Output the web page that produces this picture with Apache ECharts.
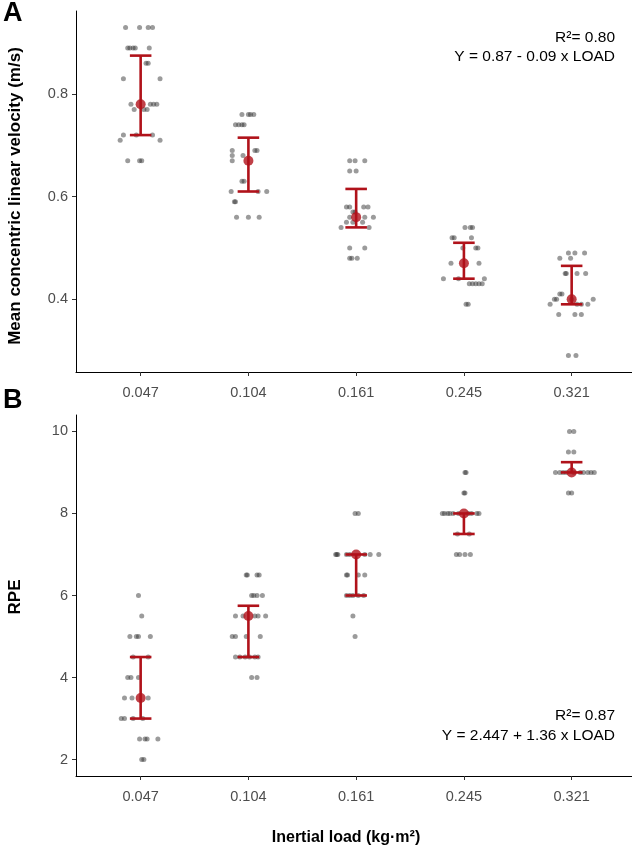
<!DOCTYPE html>
<html>
<head>
<meta charset="utf-8">
<script src="https://cdn.jsdelivr.net/npm/echarts@6/dist/echarts.min.js"></script>
<style>
html,body{margin:0;padding:0;background:#fff;}
#chart{width:632px;height:854px;}
</style>
</head>
<body>
<div id="chart"></div>
<script>
// ---- Data ----
const categories = ['0.047', '0.104', '0.161', '0.245', '0.321'];

// Panel A: individual observations [velocity, horizontal jitter in category widths]
const velPoints = [
  [[0.93,-0.14],[0.93,-0.01],[0.93,0.07],[0.93,0.11],[0.89,-0.12],[0.89,-0.10],[0.89,-0.07],[0.89,-0.05],[0.89,0.08],
   [0.86,0.05],[0.86,0.07],[0.83,-0.16],[0.83,0.18],[0.78,-0.09],[0.78,0.09],[0.78,0.12],[0.78,0.15],
   [0.77,-0.06],[0.77,0.03],[0.77,0.06],[0.72,-0.16],[0.72,-0.04],[0.72,0.11],[0.71,-0.19],[0.71,0.18],
   [0.67,-0.12],[0.67,-0.01],[0.67,0.01]],
  [[0.76,-0.06],[0.76,0.00],[0.76,0.02],[0.76,0.05],[0.74,-0.12],[0.74,-0.09],[0.74,-0.06],[0.74,-0.04],
   [0.69,-0.15],[0.69,0.06],[0.69,0.08],[0.68,-0.15],[0.68,-0.05],[0.67,-0.15],[0.63,-0.06],[0.63,-0.04],
   [0.61,-0.16],[0.61,0.09],[0.61,0.17],[0.59,-0.13],[0.59,-0.12],[0.56,-0.11],[0.56,0.00],[0.56,0.10]],
  [[0.67,-0.06],[0.67,-0.01],[0.67,0.08],[0.65,-0.06],[0.65,0.00],[0.58,-0.09],[0.58,-0.06],[0.58,0.07],[0.58,0.11],
   [0.57,-0.03],[0.57,-0.01],[0.56,-0.06],[0.56,0.08],[0.56,0.16],[0.55,-0.09],[0.55,-0.03],[0.55,0.06],
   [0.54,-0.14],[0.54,0.12],[0.50,-0.06],[0.50,0.08],[0.48,-0.06],[0.48,-0.04],[0.48,0.01]],
  [[0.54,0.01],[0.54,0.06],[0.54,0.08],[0.52,-0.11],[0.52,-0.09],[0.52,0.07],[0.50,-0.01],[0.50,0.11],[0.50,0.13],
   [0.47,-0.12],[0.47,0.14],[0.44,-0.19],[0.44,-0.05],[0.44,0.19],[0.43,0.05],[0.43,0.08],[0.43,0.11],
   [0.43,0.14],[0.43,0.17],[0.39,0.02],[0.39,0.04]],
  [[0.49,-0.03],[0.49,0.03],[0.49,0.12],[0.48,-0.11],[0.48,-0.01],[0.45,-0.06],[0.45,-0.05],[0.45,0.05],[0.45,0.13],
   [0.41,-0.11],[0.41,-0.09],[0.40,-0.16],[0.40,-0.14],[0.40,0.00],[0.40,0.20],[0.39,-0.20],[0.39,0.05],
   [0.39,0.09],[0.39,0.15],[0.37,-0.12],[0.37,0.03],[0.37,0.09],[0.29,-0.03],[0.29,0.04]]
];
const velCenter = [0.78, 0.67, 0.56, 0.47, 0.40];
const velLow    = [0.72, 0.61, 0.54, 0.44, 0.39];
const velHigh   = [0.875, 0.715, 0.615, 0.51, 0.465];

// Panel B: individual observations [RPE, horizontal jitter in category widths]
const rpePoints = [
  [[6.0,-0.02],[5.5,0.01],[5.0,-0.10],[5.0,-0.04],[5.0,-0.02],[5.0,0.09],[4.5,-0.07],[4.5,0.07],
   [4.0,-0.12],[4.0,-0.09],[4.0,-0.02],[3.5,-0.15],[3.5,-0.08],[3.5,0.07],[3.0,-0.18],[3.0,-0.15],
   [3.0,-0.07],[3.0,0.02],[2.5,-0.01],[2.5,0.04],[2.5,0.06],[2.5,0.16],[2.0,0.01],[2.0,0.03]],
  [[6.5,-0.02],[6.5,-0.01],[6.5,0.08],[6.5,0.10],[6.0,0.03],[6.0,0.05],[6.0,0.08],[6.0,0.13],
   [5.5,-0.12],[5.5,-0.05],[5.5,0.06],[5.5,0.09],[5.5,0.16],[5.0,-0.15],[5.0,-0.12],[5.0,-0.02],[5.0,0.11],
   [4.5,-0.12],[4.5,-0.08],[4.5,-0.03],[4.5,0.01],[4.5,0.06],[4.5,0.09],[4.0,0.03],[4.0,0.08]],
  [[8.0,-0.01],[8.0,0.02],[7.0,-0.19],[7.0,-0.18],[7.0,-0.17],[7.0,-0.09],[7.0,-0.06],[7.0,0.08],[7.0,0.13],[7.0,0.21],
   [6.5,-0.09],[6.5,-0.08],[6.5,0.02],[6.5,0.08],[6.0,-0.09],[6.0,-0.06],[6.0,-0.03],[6.0,0.02],[6.0,0.07],
   [5.5,-0.03],[5.0,-0.01]],
  [[9.0,0.01],[9.0,0.02],[8.5,0.00],[8.5,0.01],[8.0,-0.20],[8.0,-0.18],[8.0,-0.15],[8.0,-0.13],[8.0,-0.10],[8.0,-0.05],
   [8.0,0.04],[8.0,0.07],[8.0,0.12],[8.0,0.14],[7.5,-0.06],[7.5,0.05],[7.0,-0.07],[7.0,-0.04],[7.0,0.01],[7.0,0.06]],
  [[10.0,-0.02],[10.0,0.02],[9.5,-0.03],[9.5,0.02],[9.0,-0.15],[9.0,-0.11],[9.0,-0.08],[9.0,-0.05],[9.0,0.02],
   [9.0,0.08],[9.0,0.11],[9.0,0.15],[9.0,0.18],[9.0,0.21],[8.5,-0.03],[8.5,0.00]]
];
const rpeCenter = [3.5, 5.5, 7.0, 8.0, 9.0];
const rpeLow    = [3.0, 4.5, 6.0, 7.5, 9.0];
const rpeHigh   = [4.5, 5.75, 7.0, 8.0, 9.25];

const velTicks = [0.4, 0.6, 0.8];
const rpeTicks = [2, 4, 6, 8, 10];
const catPositions = [1, 2, 3, 4, 5];

// ---- Build options ----
const RED = '#b0121a';
const DOT = 'rgba(45,45,45,0.6)';
const FONT = 'Liberation Sans, Arial, Helvetica, sans-serif';

function pointsData(groups) {
  const out = [];
  groups.forEach((g, i) => g.forEach(p => out.push([catPositions[i] + p[1], p[0]])));
  return out;
}
function barData(low, high) {
  return catPositions.map((c, i) => [c, low[i], high[i]]);
}
function centerData(center) {
  return catPositions.map((c, i) => [c, center[i]]);
}

function renderErrorBar(params, api) {
  const x = api.value(0);
  const lo = api.coord([x, api.value(1)]);
  const hi = api.coord([x, api.value(2)]);
  const half = api.size([0.1, 0])[0];
  const style = { stroke: RED, lineWidth: 2.6 };
  return {
    type: 'group',
    children: [
      { type: 'line', shape: { x1: lo[0], y1: lo[1], x2: hi[0], y2: hi[1] }, style },
      { type: 'line', shape: { x1: hi[0] - half, y1: hi[1], x2: hi[0] + half, y2: hi[1] }, style },
      { type: 'line', shape: { x1: lo[0] - half, y1: lo[1], x2: lo[0] + half, y2: lo[1] }, style }
    ]
  };
}

function xAxisDef(gridIndex) {
  return {
    type: 'value', gridIndex, min: 0.4, max: 5.56,
    axisLine: { show: true, lineStyle: { color: '#000', width: 1 } },
    axisTick: { show: true, customValues: catPositions, length: 4, lineStyle: { color: '#333' } },
    axisLabel: { customValues: catPositions, formatter: v => categories[Math.round(v) - 1],
      color: '#4d4d4d', fontSize: 14.5, fontFamily: FONT, margin: 13 },
    splitLine: { show: false }
  };
}
function yAxisDef(gridIndex, min, max, ticks, fmt) {
  return {
    type: 'value', gridIndex, min, max,
    axisLine: { show: true, lineStyle: { color: '#000', width: 1 } },
    axisTick: { show: true, customValues: ticks, length: 4, lineStyle: { color: '#333' } },
    axisLabel: { customValues: ticks, formatter: fmt, color: '#4d4d4d', fontSize: 14.5, fontFamily: FONT, margin: 8 },
    splitLine: { show: false }
  };
}

const option = {
  backgroundColor: '#fff',
  animation: false,
  grid: [
    { left: 76, right: 0, top: 11, height: 361 },
    { left: 76, right: 0, top: 415, height: 361 }
  ],
  xAxis: [xAxisDef(0), xAxisDef(1)],
  yAxis: [
    yAxisDef(0, 0.258, 0.962, velTicks, v => v.toFixed(1)),
    yAxisDef(1, 1.6, 10.4, rpeTicks, v => String(v))
  ],
  series: [
    { type: 'scatter', xAxisIndex: 0, yAxisIndex: 0, data: pointsData(velPoints), symbolSize: 5,
      itemStyle: { color: DOT }, z: 2 },
    { type: 'custom', xAxisIndex: 0, yAxisIndex: 0, data: barData(velLow, velHigh), renderItem: renderErrorBar, z: 3 },
    { type: 'scatter', xAxisIndex: 0, yAxisIndex: 0, data: centerData(velCenter), symbolSize: 10,
      itemStyle: { color: RED }, z: 4 },
    { type: 'scatter', xAxisIndex: 1, yAxisIndex: 1, data: pointsData(rpePoints), symbolSize: 5,
      itemStyle: { color: DOT }, z: 2 },
    { type: 'custom', xAxisIndex: 1, yAxisIndex: 1, data: barData(rpeLow, rpeHigh), renderItem: renderErrorBar, z: 3 },
    { type: 'scatter', xAxisIndex: 1, yAxisIndex: 1, data: centerData(rpeCenter), symbolSize: 10,
      itemStyle: { color: RED }, z: 4 }
  ],
  graphic: [
    { type: 'text', left: 3, top: 0, style: { text: 'A', font: 'bold 27px ' + FONT, fill: '#000' } },
    { type: 'text', left: 3, top: 387, style: { text: 'B', font: 'bold 27px ' + FONT, fill: '#000' } },
    { type: 'text', x: 15, y: 196, rotation: Math.PI / 2,
      style: { text: 'Mean concentric linear velocity (m/s)', font: 'bold 17px ' + FONT, fill: '#000',
        align: 'center', verticalAlign: 'middle' } },
    { type: 'text', x: 15, y: 597, rotation: Math.PI / 2,
      style: { text: 'RPE', font: 'bold 17px ' + FONT, fill: '#000', align: 'center', verticalAlign: 'middle' } },
    { type: 'text', x: 346, y: 838,
      style: { text: 'Inertial load (kg·m²)', font: 'bold 16px ' + FONT, fill: '#000', align: 'center', verticalAlign: 'middle' } },
    { type: 'text', x: 615, y: 38,
      style: { text: 'R²= 0.80', font: '15.5px ' + FONT, fill: '#000', align: 'right', verticalAlign: 'middle' } },
    { type: 'text', x: 615, y: 57,
      style: { text: 'Y = 0.87 - 0.09 x LOAD', font: '15.5px ' + FONT, fill: '#000', align: 'right', verticalAlign: 'middle' } },
    { type: 'text', x: 615, y: 716,
      style: { text: 'R²= 0.87', font: '15.5px ' + FONT, fill: '#000', align: 'right', verticalAlign: 'middle' } },
    { type: 'text', x: 615, y: 736,
      style: { text: 'Y = 2.447 + 1.36 x LOAD', font: '15.5px ' + FONT, fill: '#000', align: 'right', verticalAlign: 'middle' } }
  ]
};

const chart = echarts.init(document.getElementById('chart'), null, { renderer: 'canvas' });
chart.setOption(option);
</script>
</body>
</html>
